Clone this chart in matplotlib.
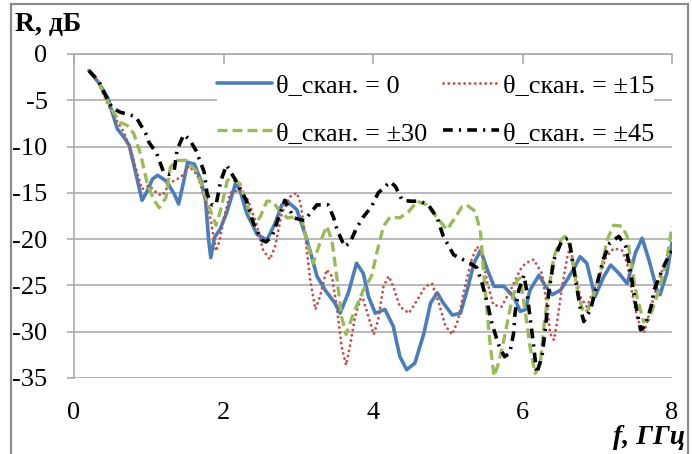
import matplotlib
matplotlib.use("Agg")
import matplotlib.pyplot as plt
from matplotlib.patches import Rectangle

# ---------------- data ----------------
f_0 = [0.20, 0.33, 0.45, 0.58, 0.67, 0.74, 0.83, 0.91, 0.98, 1.05, 1.12, 1.23, 1.34, 1.40,
       1.45, 1.52, 1.61, 1.70, 1.76, 1.80, 1.83, 1.88, 1.95, 2.04, 2.16, 2.22, 2.31, 2.45,
       2.58, 2.69, 2.78, 2.85, 2.98, 3.09, 3.18, 3.25, 3.36, 3.49, 3.56, 3.67, 3.78, 3.87,
       3.94, 4.03, 4.16, 4.27, 4.36, 4.45, 4.56, 4.68, 4.77, 4.86, 4.94, 5.06, 5.17, 5.26,
       5.35, 5.44, 5.53, 5.62, 5.75, 5.88, 5.97, 6.04, 6.10, 6.22, 6.31, 6.40, 6.51, 6.68,
       6.77, 6.86, 6.97, 7.09, 7.18, 7.29, 7.40, 7.51, 7.60, 7.69, 7.80, 7.84, 7.93, 8.00]
R_0 = [-1.8, -3.1, -4.7, -8.1, -9.0, -9.9, -13.0, -15.8, -14.8, -13.5, -13.1, -13.7, -15.1, -16.2,
       -14.4, -11.7, -11.9, -13.7, -15.8, -20.0, -22.0, -19.8, -19.0, -17.2, -14.0, -14.7, -17.2, -19.5,
       -20.1, -18.3, -16.3, -15.9, -16.8, -19.4, -21.9, -24.0, -25.5, -26.9, -28.0, -25.8, -22.6, -23.7,
       -26.2, -28.0, -27.6, -29.4, -32.7, -34.1, -33.4, -30.2, -26.9, -25.8, -26.9, -28.2, -28.0, -25.5,
       -22.6, -21.2, -23.3, -25.1, -25.1, -26.2, -27.8, -27.6, -25.5, -23.9, -25.1, -26.0, -25.5, -23.3,
       -21.9, -22.6, -26.2, -24.0, -22.8, -23.7, -24.8, -21.5, -19.9, -22.2, -25.5, -26.0, -23.7, -20.4]

f_15 = [0.20, 0.33, 0.45, 0.54, 0.67, 0.76, 0.85, 0.91, 1.00, 1.12, 1.18, 1.29, 1.43, 1.54,
        1.65, 1.76, 1.83, 1.90, 1.95, 2.00, 2.09, 2.22, 2.33, 2.45, 2.53, 2.62, 2.69, 2.78,
        2.89, 2.98, 3.03, 3.09, 3.16, 3.23, 3.29, 3.38, 3.45, 3.52, 3.58, 3.64, 3.69, 3.76,
        3.85, 3.94, 4.01, 4.07, 4.14, 4.21, 4.27, 4.36, 4.48, 4.59, 4.70, 4.79, 4.88, 4.97,
        5.06, 5.14, 5.23, 5.32, 5.39, 5.46, 5.52, 5.61, 5.72, 5.84, 5.97, 6.04, 6.15, 6.26,
        6.33, 6.37, 6.42, 6.46, 6.53, 6.60, 6.64, 6.68, 6.77, 6.86, 6.94, 7.03, 7.12, 7.22,
        7.33, 7.40, 7.46, 7.54, 7.63, 7.72, 7.82, 7.93, 8.00]
R_15 = [-1.8, -3.1, -5.4, -6.8, -8.5, -10.4, -13.0, -14.6, -14.2, -15.1, -15.3, -13.9, -13.3, -12.1,
        -13.1, -15.8, -18.0, -21.3, -20.1, -17.9, -15.0, -14.7, -15.8, -18.6, -21.2, -22.2, -20.8, -17.2,
        -15.4, -15.0, -16.1, -19.4, -24.4, -27.6, -26.2, -23.3, -24.0, -27.6, -31.6, -33.6, -31.6, -28.4,
        -26.0, -28.4, -30.3, -28.7, -25.1, -24.0, -25.1, -27.3, -28.0, -26.6, -25.1, -24.8, -26.9, -29.4,
        -30.3, -28.7, -25.1, -22.2, -20.8, -21.5, -24.4, -27.1, -27.3, -25.5, -23.3, -22.6, -22.2, -23.7,
        -27.3, -30.2, -30.9, -29.1, -25.1, -21.9, -20.8, -22.6, -26.2, -27.3, -25.8, -24.0, -21.9, -21.0,
        -21.2, -22.6, -25.5, -28.7, -30.0, -27.3, -24.4, -22.2, -21.2]

f_30 = [0.20, 0.33, 0.49, 0.62, 0.71, 0.80, 0.89, 0.98, 1.07, 1.14, 1.23, 1.29, 1.38, 1.50,
        1.63, 1.72, 1.81, 1.90, 1.96, 2.05, 2.09, 2.22, 2.31, 2.40, 2.49, 2.58, 2.65, 2.74,
        2.85, 2.96, 3.05, 3.11, 3.20, 3.29, 3.38, 3.45, 3.52, 3.58, 3.64, 3.74, 3.87, 3.98,
        4.05, 4.14, 4.23, 4.36, 4.48, 4.59, 4.72, 4.86, 4.99, 5.08, 5.19, 5.25, 5.37, 5.44,
        5.50, 5.57, 5.62, 5.68, 5.75, 5.84, 5.93, 5.97, 6.04, 6.10, 6.17, 6.24, 6.28, 6.35,
        6.42, 6.51, 6.57, 6.64, 6.68, 6.75, 6.82, 6.88, 6.97, 7.06, 7.13, 7.22, 7.33, 7.40,
        7.46, 7.53, 7.62, 7.69, 7.75, 7.84, 7.93, 8.00]
R_30 = [-1.8, -3.1, -5.8, -7.4, -7.7, -8.6, -10.8, -14.0, -15.8, -16.6, -15.5, -12.2, -11.5, -11.5,
        -12.6, -14.4, -16.6, -18.5, -16.9, -13.7, -13.4, -14.0, -16.1, -18.6, -17.6, -15.9, -15.9, -16.8,
        -17.7, -17.6, -17.9, -20.1, -22.6, -20.4, -18.6, -20.1, -24.4, -28.4, -30.3, -28.0, -25.5, -24.0,
        -21.5, -18.6, -17.6, -17.7, -17.0, -15.9, -16.3, -17.7, -19.0, -17.9, -16.5, -16.3, -17.0, -19.4,
        -25.5, -31.6, -34.8, -33.4, -30.9, -27.3, -24.4, -24.2, -28.0, -31.6, -34.5, -33.4, -29.8, -25.5,
        -21.9, -20.1, -19.7, -20.8, -23.0, -26.2, -28.0, -27.6, -25.5, -23.0, -20.1, -18.5, -18.6, -19.7,
        -23.0, -26.2, -28.9, -28.7, -27.3, -25.1, -22.2, -18.6]

f_45 = [0.20, 0.33, 0.41, 0.51, 0.62, 0.72, 0.83, 0.96, 1.00, 1.11, 1.20, 1.27, 1.34, 1.38,
        1.47, 1.55, 1.63, 1.74, 1.78, 1.85, 1.90, 1.96, 2.04, 2.16, 2.31, 2.40, 2.51, 2.57,
        2.65, 2.74, 2.82, 2.94, 3.08, 3.25, 3.40, 3.47, 3.52, 3.62, 3.69, 3.78, 3.87, 3.98,
        4.07, 4.23, 4.30, 4.39, 4.50, 4.63, 4.74, 4.86, 4.94, 5.08, 5.30, 5.39, 5.46, 5.53,
        5.59, 5.68, 5.76, 5.83, 5.88, 5.90, 5.95, 6.02, 6.06, 6.10, 6.15, 6.19, 6.26, 6.31,
        6.35, 6.42, 6.53, 6.62, 6.71, 6.77, 6.82, 6.91, 6.99, 7.08, 7.17, 7.29, 7.38, 7.44,
        7.51, 7.58, 7.64, 7.72, 7.76, 7.88, 7.94, 8.00]
R_45 = [-1.8, -2.9, -4.3, -5.8, -6.3, -6.5, -6.8, -8.6, -9.5, -10.8, -12.8, -13.0, -12.6, -10.3,
        -8.7, -9.3, -10.4, -12.7, -15.1, -16.3, -16.3, -13.8, -12.0, -13.6, -15.9, -18.3, -20.1, -20.3,
        -19.7, -17.6, -15.8, -17.7, -18.0, -16.3, -16.3, -17.6, -19.0, -20.8, -20.4, -18.8, -17.6, -16.5,
        -15.0, -13.8, -14.3, -15.8, -15.9, -15.9, -16.3, -17.7, -19.7, -21.7, -22.6, -23.1, -24.8, -26.9,
        -29.1, -31.4, -32.7, -32.3, -30.2, -28.0, -25.5, -23.9, -25.8, -28.4, -31.6, -34.5, -32.7, -29.4,
        -25.8, -22.2, -20.1, -19.9, -24.4, -27.3, -28.9, -27.6, -25.1, -22.2, -20.4, -19.7, -20.8, -23.3,
        -26.9, -29.8, -29.4, -27.3, -25.5, -23.1, -22.1, -21.2]

labels = ["θ_скан. = 0", "θ_скан. = ±15", "θ_скан. = ±30", "θ_скан. = ±45"]
x_ticks = [0, 2, 4, 6, 8]
y_ticks = [0, -5, -10, -15, -20, -25, -30, -35]
y_ticklabels = ["0", "-5", "-10", "-15", "-20", "-25", "-30", "-35"]
ylabel_text = "R, дБ"
xlabel_text = "f, ГГц"

# ---------------- figure ----------------
plt.rcParams['font.family'] = ['Liberation Serif', 'DejaVu Serif']
W, H = 692, 454
fig = plt.figure(figsize=(W / 100, H / 100), dpi=100)
ax = fig.add_axes([74 / W, 1 - 378 / H, (672 - 74) / W, (378 - 54) / H])

grid_c = '#A6A6A6'
l0, = ax.plot(f_0, R_0, color='#4A7EBB', lw=2.6, solid_capstyle='round',
              solid_joinstyle='round', label=labels[0], zorder=3)
l1, = ax.plot(f_15, R_15, color='#C0504D', lw=2.1, linestyle=(0, (0.01, 1.8)),
              dash_capstyle='round', label=labels[1], zorder=4)
l2, = ax.plot(f_30, R_30, color='#9BBB59', lw=2.4, linestyle=(0, (3.0, 1.5)),
              dash_capstyle='butt', dash_joinstyle='round', label=labels[2], zorder=5)
l3, = ax.plot(f_45, R_45, color='black', lw=2.6, linestyle=(0, (2.7, 1.7, 0.6, 1.7)),
              dash_capstyle='butt', dash_joinstyle='round', label=labels[3], zorder=6)

ax.set_xlim(0, 8)
ax.set_ylim(-35, 0)
ax.set_xticks(x_ticks)
ax.set_xticklabels([str(v) for v in x_ticks])
ax.set_yticks(y_ticks)
ax.set_yticklabels(y_ticklabels)

ax.grid(axis='y', color=grid_c, lw=1.1)
ax.set_axisbelow(True)
for s in ['bottom', 'right']:
    ax.spines[s].set_visible(False)
for s in ['top', 'left']:
    ax.spines[s].set_color(grid_c)
    ax.spines[s].set_linewidth(1.1)

ax.tick_params(axis='x', bottom=False, top=True, labelbottom=True, labeltop=False,
               direction='in', length=7, width=1.1, color=grid_c, pad=17, labelsize=19)
ax.tick_params(axis='y', left=True, direction='out', length=5, width=1.1, color=grid_c,
               pad=14, labelsize=19)

# row-wise legend order: (0, ±15) on row 1, (±30, ±45) on row 2
leg = ax.legend([l0, l2, l1, l3], [labels[0], labels[2], labels[1], labels[3]],
                ncol=2, loc='upper left', bbox_to_anchor=(217 / W, 1 - 74 / H),
                bbox_transform=fig.transFigure, fontsize=19, frameon=True, fancybox=False,
                edgecolor='none', facecolor='white', framealpha=1, borderpad=0.0,
                handlelength=2.1, handletextpad=0.15, columnspacing=0.6, labelspacing=0.9,
                borderaxespad=0)
leg.set_zorder(10)

fig.text(15 / W, 1 - 24 / H, ylabel_text, fontsize=20, fontweight='bold', ha='left', va='center')
fig.text(685 / W, 1 - 437 / H, xlabel_text, fontsize=20, fontweight='bold', fontstyle='italic',
         ha='right', va='center')

fig.patches.append(Rectangle((11 / W, -0.05), (688 - 11) / W, 1.05 - 4 / H, transform=fig.transFigure,
                             fill=False, edgecolor='#8C8C8C', lw=1.6))

fig.savefig('out.png', dpi=100)
